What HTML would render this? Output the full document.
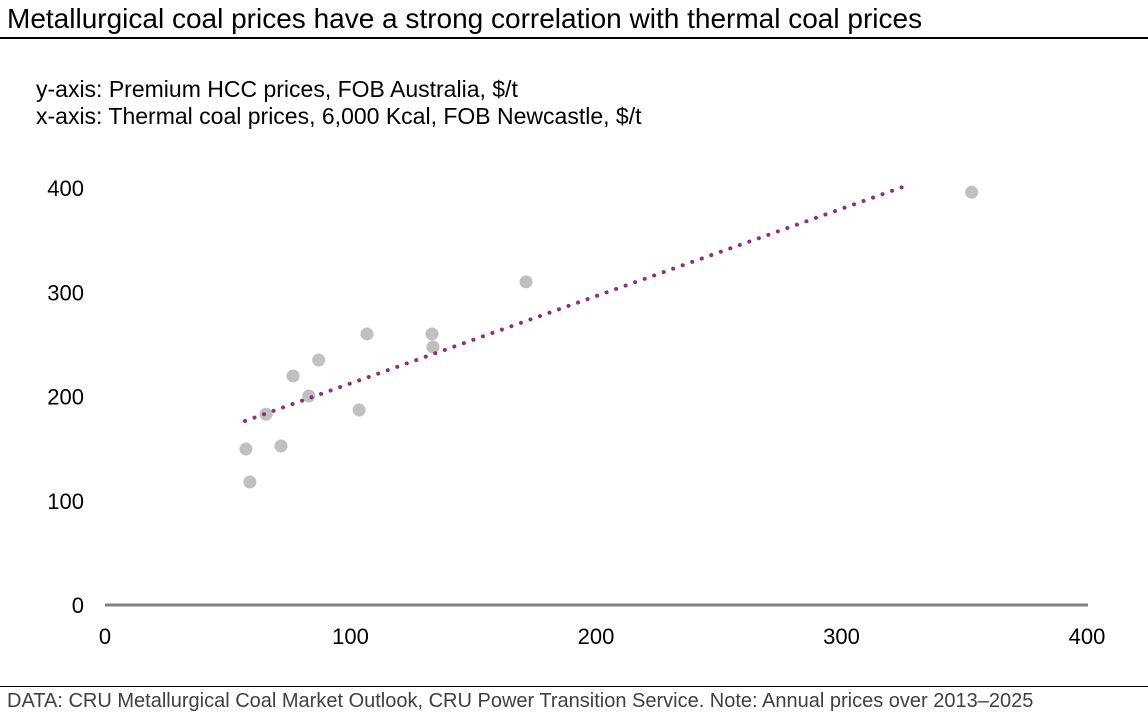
<!DOCTYPE html>
<html><head><meta charset="utf-8"><style>
body{margin:0;width:1148px;height:719px;background:#fff;font-family:"Liberation Sans",Arial,sans-serif;overflow:hidden;position:relative}
.t{position:absolute;white-space:nowrap}
</style></head><body>
<div class="t" style="left:7px;top:3px;font-size:28px;color:#000">Metallurgical coal prices have a strong correlation with thermal coal prices</div>
<div style="position:absolute;left:0;top:37px;width:1148px;height:2px;background:#000"></div>
<div class="t" style="left:36px;top:76px;font-size:23px">y-axis: Premium HCC prices, FOB Australia, $/t</div>
<div class="t" style="left:36px;top:103px;font-size:23px">x-axis: Thermal coal prices, 6,000 Kcal, FOB Newcastle, $/t</div>
<svg id="chart" width="1148" height="719" style="position:absolute;left:0;top:0"></svg>
<div style="position:absolute;left:0;top:686px;width:1148px;height:1px;background:#000"></div>
<div class="t" style="left:7px;top:690px;font-size:20px;color:#404040">DATA: CRU Metallurgical Coal Market Outlook, CRU Power Transition Service. Note: Annual prices over 2013–2025</div>
<script>
const thermal=[57.4,59,65.6,71.7,76.6,83,87,103.5,106.7,133.2,133.6,171.5,353];
const hcc=[149.6,118,183,152.5,219.7,200.5,235,187,260,260,247.5,310,396];
const trendX=[57,325];
const trendY=[176.5,401];
const xTicks=[0,100,200,300,400];
const yTicks=[0,100,200,300,400];
const NS="http://www.w3.org/2000/svg";
const svg=document.getElementById('chart');
const X=v=>105+v*2.455;
const Y=v=>605-v*1.0425;
function mk(t,a){const e=document.createElementNS(NS,t);for(const k in a)e.setAttribute(k,a[k]);svg.appendChild(e);return e;}
yTicks.forEach(v=>{const e=mk('text',{x:84,y:Y(v)+8,'text-anchor':'end','font-size':22,'font-family':'Liberation Sans, sans-serif'});e.textContent=v;

});
xTicks.forEach(v=>{const e=mk('text',{x:X(v),y:644,'text-anchor':'middle','font-size':22,'font-family':'Liberation Sans, sans-serif'});e.textContent=v;

});
const ax=mk('line',{x1:105,y1:605,x2:1088,y2:605,stroke:'#808080','stroke-width':3});


thermal.forEach((v,i)=>{const c=mk('circle',{cx:X(v),cy:Y(hcc[i]),r:6.5,fill:'#c0c0c0'});

});
const tl=mk('line',{x1:X(trendX[0]),y1:Y(trendY[0]),x2:X(trendX[1]),y2:Y(trendY[1]),stroke:'#8e2f7c','stroke-width':4,'stroke-linecap':'round','stroke-dasharray':'0.1 10'});


</script>
</body></html>
